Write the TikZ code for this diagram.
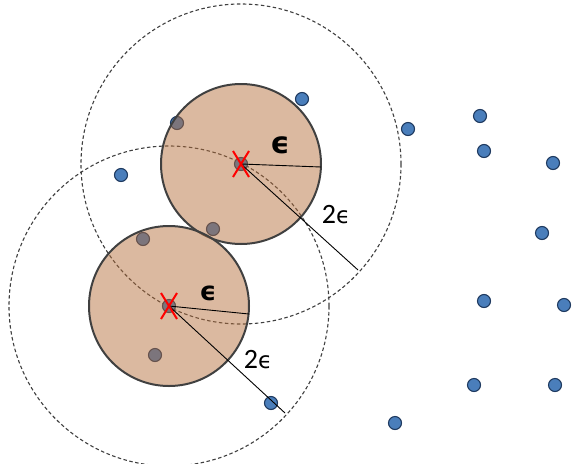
\documentclass[tikz,border=0pt]{standalone}
\usepackage{fontspec}
\setmainfont{Carlito}
\newfontfamily\grk{DejaVu Sans}
\usepackage{tikz}
\usetikzlibrary{calc}
\definecolor{dotblue}{HTML}{4A7EBB}
\definecolor{dotedge}{HTML}{1F3A60}
\definecolor{tanfill}{HTML}{B46D39}
\definecolor{rim}{HTML}{404040}
\newcommand{\eps}[1]{{\grk\fontsize{#1}{#1}\selectfont ϵ}}
\tikzset{
  pt/.style={circle, draw=dotedge, fill=dotblue, line width=1.1pt, minimum size=13pt, inner sep=0pt},
  disc/.style={draw=rim, line width=2pt, fill=tanfill, fill opacity=0.48},
  reach/.style={draw=rim, line width=1.1pt, dash pattern=on 3.5pt off 2.5pt},
  rad/.style={draw=black, line width=0.9pt},
  xmark/.style={draw=red, line width=2pt},
  lbl/.style={inner sep=0pt, font=\fontsize{28}{28}\selectfont},
  biglbl/.style={inner sep=0pt, font=\bfseries},
}

\begin{document}
\begin{tikzpicture}[x=1pt, y=-1pt]
\useasboundingbox (0,0) rectangle (572,463);
% the two core points
\coordinate (cA) at (241,164);
\coordinate (cB) at (169,306);
% 2eps reach
\draw[reach] (cA) circle[radius=160];
\draw[reach] (cB) circle[radius=160];
% data points
\foreach \x/\y [count=\i] in {302/99, 408/129, 480/116, 484/151, 553/163, 121/175,
  542/233, 484/301, 564/305, 474/385, 555/385, 395/423, 271/403,
  177/123, 213/229, 143/239, 155/355, 241/164, 169/306}
  \node[pt] (p\i) at (\x,\y) {};
% eps neighbourhoods
\draw[disc] (cA) circle[radius=80];
\draw[disc] (cB) circle[radius=80];
% radii
\coordinate (eA) at (321,167);
\coordinate (fA) at (358,270);
\coordinate (eB) at (249,314);
\coordinate (fB) at (285,413);
\draw[rad] (cA) -- (eA);
\draw[rad] (cA) -- (fA);
\draw[rad] (cB) -- (eB);
\draw[rad] (cB) -- (fB);
% crosses
\foreach \c in {cA,cB} {
  \draw[xmark] ($(\c)+(-8,-13)$) -- ($(\c)+(8,13)$);
  \draw[xmark] ($(\c)+(8,-13)$) -- ($(\c)+(-8,13)$);
}
\node[biglbl] (epsA) at (280,145) {\eps{30}};
\node[lbl] (twoA) at (336,215) {2\eps{23}};
\node[biglbl] (epsB) at (208,293) {\eps{26}};
\node[lbl] (twoB) at (258,360) {2\eps{23}};
\end{tikzpicture}
\end{document}
